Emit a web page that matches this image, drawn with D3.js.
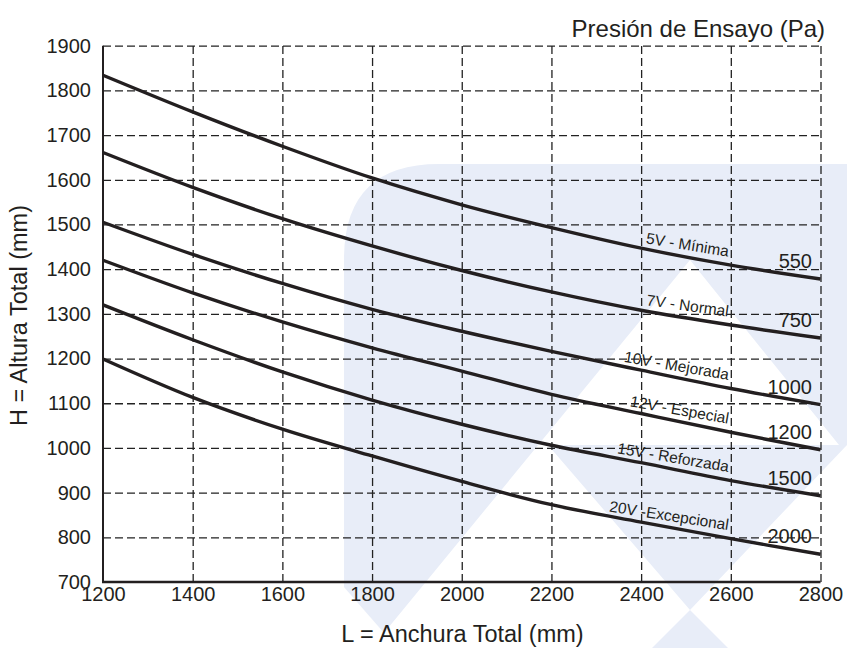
<!DOCTYPE html>
<html>
<head>
<meta charset="utf-8">
<script src="https://cdn.jsdelivr.net/npm/d3@7/dist/d3.min.js"></script>
<style>
  html, body { margin: 0; padding: 0; background: #ffffff; }
  svg { display: block; }
  text { font-family: "Liberation Sans", Arial, Helvetica, sans-serif; fill: #231f20; }
</style>
</head>
<body>
<svg id="chart" width="847" height="648"></svg>
<script>
// ---------- DATA ----------
const widths = [1200, 1400, 1600, 1800, 2000, 2200, 2400, 2600, 2800];
const curve5V  = [1834, 1752, 1675, 1604, 1544, 1493, 1447, 1409, 1378];
const curve7V  = [1661, 1583, 1513, 1452, 1397, 1349, 1308, 1275, 1246];
const curve10V = [1505, 1433, 1368, 1310, 1261, 1216, 1174, 1133, 1097];
const curve12V = [1420, 1347, 1282, 1224, 1172, 1120, 1077, 1035, 996];
const curve15V = [1320, 1242, 1170, 1107, 1053, 1006, 967, 927, 893];
const curve20V = [1199, 1113, 1042, 982, 925, 873, 834, 797, 762];
const seriesNames = ["5V - Mínima", "7V - Normal", "10V - Mejorada", "12V - Especial", "15V - Reforzada", "20V -Excepcional"];
const pressures = ["550", "750", "1000", "1200", "1500", "2000"];
const xTicks = [1200, 1400, 1600, 1800, 2000, 2200, 2400, 2600, 2800];
const yTicks = [700, 800, 900, 1000, 1100, 1200, 1300, 1400, 1500, 1600, 1700, 1800, 1900];
const xTitle = "L = Anchura Total (mm)";
const yTitle = "H = Altura Total (mm)";
const topTitle = "Presión de Ensayo (Pa)";

const allSeries = [curve5V, curve7V, curve10V, curve12V, curve15V, curve20V];

// ---------- LAYOUT ----------
const svg = d3.select("#chart");
const pLeft = 103, pRight = 820.5, pTop = 45.7, pBottom = 582;
const x = d3.scaleLinear().domain([1200, 2800]).range([pLeft, pRight]);
const y = d3.scaleLinear().domain([700, 1900]).range([pBottom, pTop]);
const ink = "#231f20";

// ---------- WATERMARK ----------
const wm = svg.append("g");
const bx = 344, by = 164, rr = 95;
wm.append("path")
  .attr("d", `M${bx},720 L${bx},${by + rr} Q${bx},${by} ${bx + rr},${by} L900,${by} L900,720 Z`)
  .attr("fill", "#e8edf8");
const whitePolys = [
  [[690, 260], [839, 445], [548, 445], [690, 610], [600, 700], [329, 720], [329, 700]],
  [[690, 610], [847, 445], [900, 445], [900, 720], [800, 720]],
  [[330, 571], [460, 720], [330, 720]]
];
whitePolys.forEach(p => {
  wm.append("polygon").attr("points", p.map(d => d.join(",")).join(" ")).attr("fill", "#ffffff");
});

// ---------- GRID ----------
const grid = svg.append("g");
grid.append("g")
  .attr("transform", `translate(${pLeft},0)`)
  .call(d3.axisLeft(y).tickValues(yTicks.filter(v => v > 700)).tickSize(-(pRight - pLeft)).tickFormat(""))
  .call(g => g.select(".domain").remove())
  .call(g => g.selectAll("line").attr("stroke", "#222").attr("stroke-width", 1.3).attr("stroke-dasharray", "8,4"));
grid.append("g")
  .attr("transform", `translate(0,${pBottom})`)
  .call(d3.axisBottom(x).tickValues(xTicks.filter(v => v > 1200)).tickSize(-(pBottom - pTop)).tickFormat(""))
  .call(g => g.select(".domain").remove())
  .call(g => g.selectAll("line").attr("stroke", "#222").attr("stroke-width", 1.3).attr("stroke-dasharray", "8,4"));

// ---------- AXES ----------
const yAxis = svg.append("g")
  .attr("transform", `translate(${pLeft},0)`)
  .call(d3.axisLeft(y).tickValues(yTicks).tickSize(0).tickPadding(12).tickFormat(d3.format("d")));
yAxis.select(".domain").remove();
yAxis.selectAll("text").attr("font-size", 20).attr("fill", ink)
  .style("font-family", '"Liberation Sans", Arial, sans-serif');

const xAxis = svg.append("g")
  .attr("transform", `translate(0,${pBottom})`)
  .call(d3.axisBottom(x).tickValues(xTicks).tickSize(0).tickPadding(5).tickFormat(d3.format("d")));
xAxis.select(".domain").remove();
xAxis.selectAll("text").attr("font-size", 20).attr("fill", ink)
  .style("font-family", '"Liberation Sans", Arial, sans-serif');

svg.append("line").attr("x1", pLeft).attr("x2", pLeft).attr("y1", pTop).attr("y2", pBottom + 1)
  .attr("stroke", ink).attr("stroke-width", 2);
svg.append("line").attr("x1", pLeft - 1).attr("x2", pRight).attr("y1", pBottom).attr("y2", pBottom)
  .attr("stroke", ink).attr("stroke-width", 2.5);

// ---------- CURVES ----------
const line = d3.line()
  .x((d, i) => x(widths[i]))
  .y(d => y(d))
  .curve(d3.curveCatmullRom.alpha(0.5));

svg.append("g").selectAll("path").data(allSeries).join("path")
  .attr("d", d => line(d))
  .attr("fill", "none")
  .attr("stroke", ink)
  .attr("stroke-width", 3.4)
  .attr("stroke-linecap", "butt");

function valueAt(series, xv) {
  const i = Math.min(widths.length - 2, Math.max(0, d3.bisectRight(widths, xv) - 1));
  const t = (xv - widths[i]) / (widths[i + 1] - widths[i]);
  return series[i] + t * (series[i + 1] - series[i]);
}

// ---------- CURVE LABELS ----------
const labelEnd = x.invert(728);
allSeries.forEach((s, k) => {
  const ex = x(labelEnd), ey = y(valueAt(s, labelEnd)) - 8;
  const sx = x(2400), sy = y(valueAt(s, 2400));
  const ang = Math.atan2(ey + 8 - sy, ex - sx) * 180 / Math.PI * 0.85;
  svg.append("text")
    .attr("transform", `translate(${ex},${ey}) rotate(${ang})`)
    .attr("text-anchor", "end")
    .attr("font-size", 15.5)
    .text(seriesNames[k]);
});

// ---------- PRESSURE LABELS ----------
const pressX = x.invert(812);
allSeries.forEach((s, k) => {
  svg.append("text")
    .attr("x", x(pressX))
    .attr("y", y(s[s.length - 1]) - 11)
    .attr("text-anchor", "end")
    .attr("font-size", 20)
    .text(pressures[k]);
});

// ---------- TITLES ----------
svg.append("text").attr("x", 462.5).attr("y", 642).attr("text-anchor", "middle")
  .attr("font-size", 23.5).text(xTitle);
svg.append("text").attr("transform", "translate(27,315.5) rotate(-90)").attr("text-anchor", "middle")
  .attr("font-size", 23.5).text(yTitle);
svg.append("text").attr("x", 825).attr("y", 37).attr("text-anchor", "end")
  .attr("font-size", 24).text(topTitle);
</script>
</body>
</html>
